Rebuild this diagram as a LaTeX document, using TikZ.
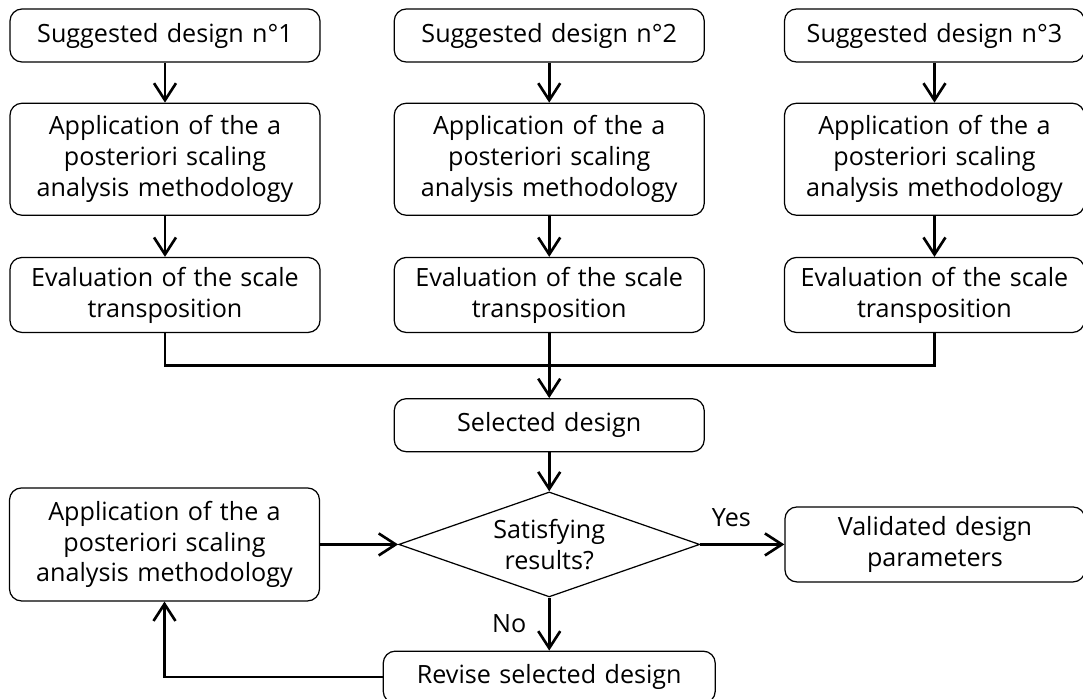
\documentclass[tikz,border=0pt]{standalone}
\usepackage{fontspec}
\setmainfont{Open Sans}
\usetikzlibrary{shapes.geometric,arrows.meta,positioning,calc}

\begin{document}
\begin{tikzpicture}[
        node distance=0.8cm, font=\fontsize{14.3}{17.6}\selectfont,
        box/.style={rectangle, draw, line width=0.7pt, rounded corners=0.24cm, text width=6.2cm, align=center, inner xsep=0pt, inner ysep=2pt},
        narrow/.style={box, text width=6.0cm},
        decision/.style={diamond, draw, line width=0.7pt, aspect=2.87, minimum width=6.02cm, minimum height=2.1cm, inner sep=0pt, align=center},
        arr/.style={-{Straight Barb[length=3.4mm,width=4.4mm]}, line width=1.5pt},
        link/.style={line width=1.5pt}
    ]
        \useasboundingbox (0,0) rectangle (21.66,-13.96);
        \node[box, minimum height=1.06cm] (sug1) at (3.30,-0.71) {Suggested design n°1};
        \node[box, minimum height=1.06cm, right=1.46cm of sug1] (sug2) {Suggested design n°2};
        \node[narrow, minimum height=1.06cm, right=1.58cm of sug2] (sug3) {Suggested design n°3};
        \node[box, minimum height=2.24cm, below=of sug1] (app1) {Application of the a\\posteriori scaling\\analysis methodology};
        \node[box, minimum height=2.24cm, below=of sug2] (app2) {Application of the a\\posteriori scaling\\analysis methodology};
        \node[narrow, minimum height=2.24cm, below=of sug3] (app3) {Application of the a\\posteriori scaling\\analysis methodology};
        \node[box, minimum height=1.5cm, below=0.82cm of app1] (eval1) {Evaluation of the scale\\transposition};
        \node[box, minimum height=1.5cm, below=0.82cm of app2] (eval2) {Evaluation of the scale\\transposition};
        \node[narrow, minimum height=1.5cm, below=0.82cm of app3] (eval3) {Evaluation of the scale\\transposition};
        \node[box, minimum height=1.06cm, below=1.3cm of eval2] (sel) {Selected design};
        \node[decision, below=0.78cm of sel] (check) {Satisfying\\results?};
        \node[box, minimum height=2.26cm, left=1.56cm of check] (app4) {Application of the a\\posteriori scaling\\analysis methodology};
        \node[narrow, minimum height=1.5cm, right=1.68cm of check] (valid) {Validated design\\parameters};
        \node[box, text width=6.64cm, minimum height=1.04cm, below=1.06cm of check] (rev) {Revise selected design};
        \coordinate (join) at ($(eval2.south)!0.5!(sel.north)$);
        \draw[arr] (sug1) -- (app1);
        \draw[arr] (sug2) -- (app2);
        \draw[arr] (sug3) -- (app3);
        \draw[arr] (app1) -- (eval1);
        \draw[arr] (app2) -- (eval2);
        \draw[arr] (app3) -- (eval3);
        \draw[link] (eval1.south) |- (join);
        \draw[link] (eval3.south) |- (join);
        \draw[arr] (eval2.south) -- (sel.north);
        \draw[arr] (sel) -- (check);
        \draw[arr] (check.east) -- node[above=6pt, pos=0.37] (yes) {Yes} (valid.west);
        \draw[arr] (check.south) -- node[left=9pt] (no) {No} (rev.north);
        \draw[arr] (app4.east) -- (check.west);
        \draw[arr] (rev.west) -| (app4.south);
    \end{tikzpicture}
\end{document}
